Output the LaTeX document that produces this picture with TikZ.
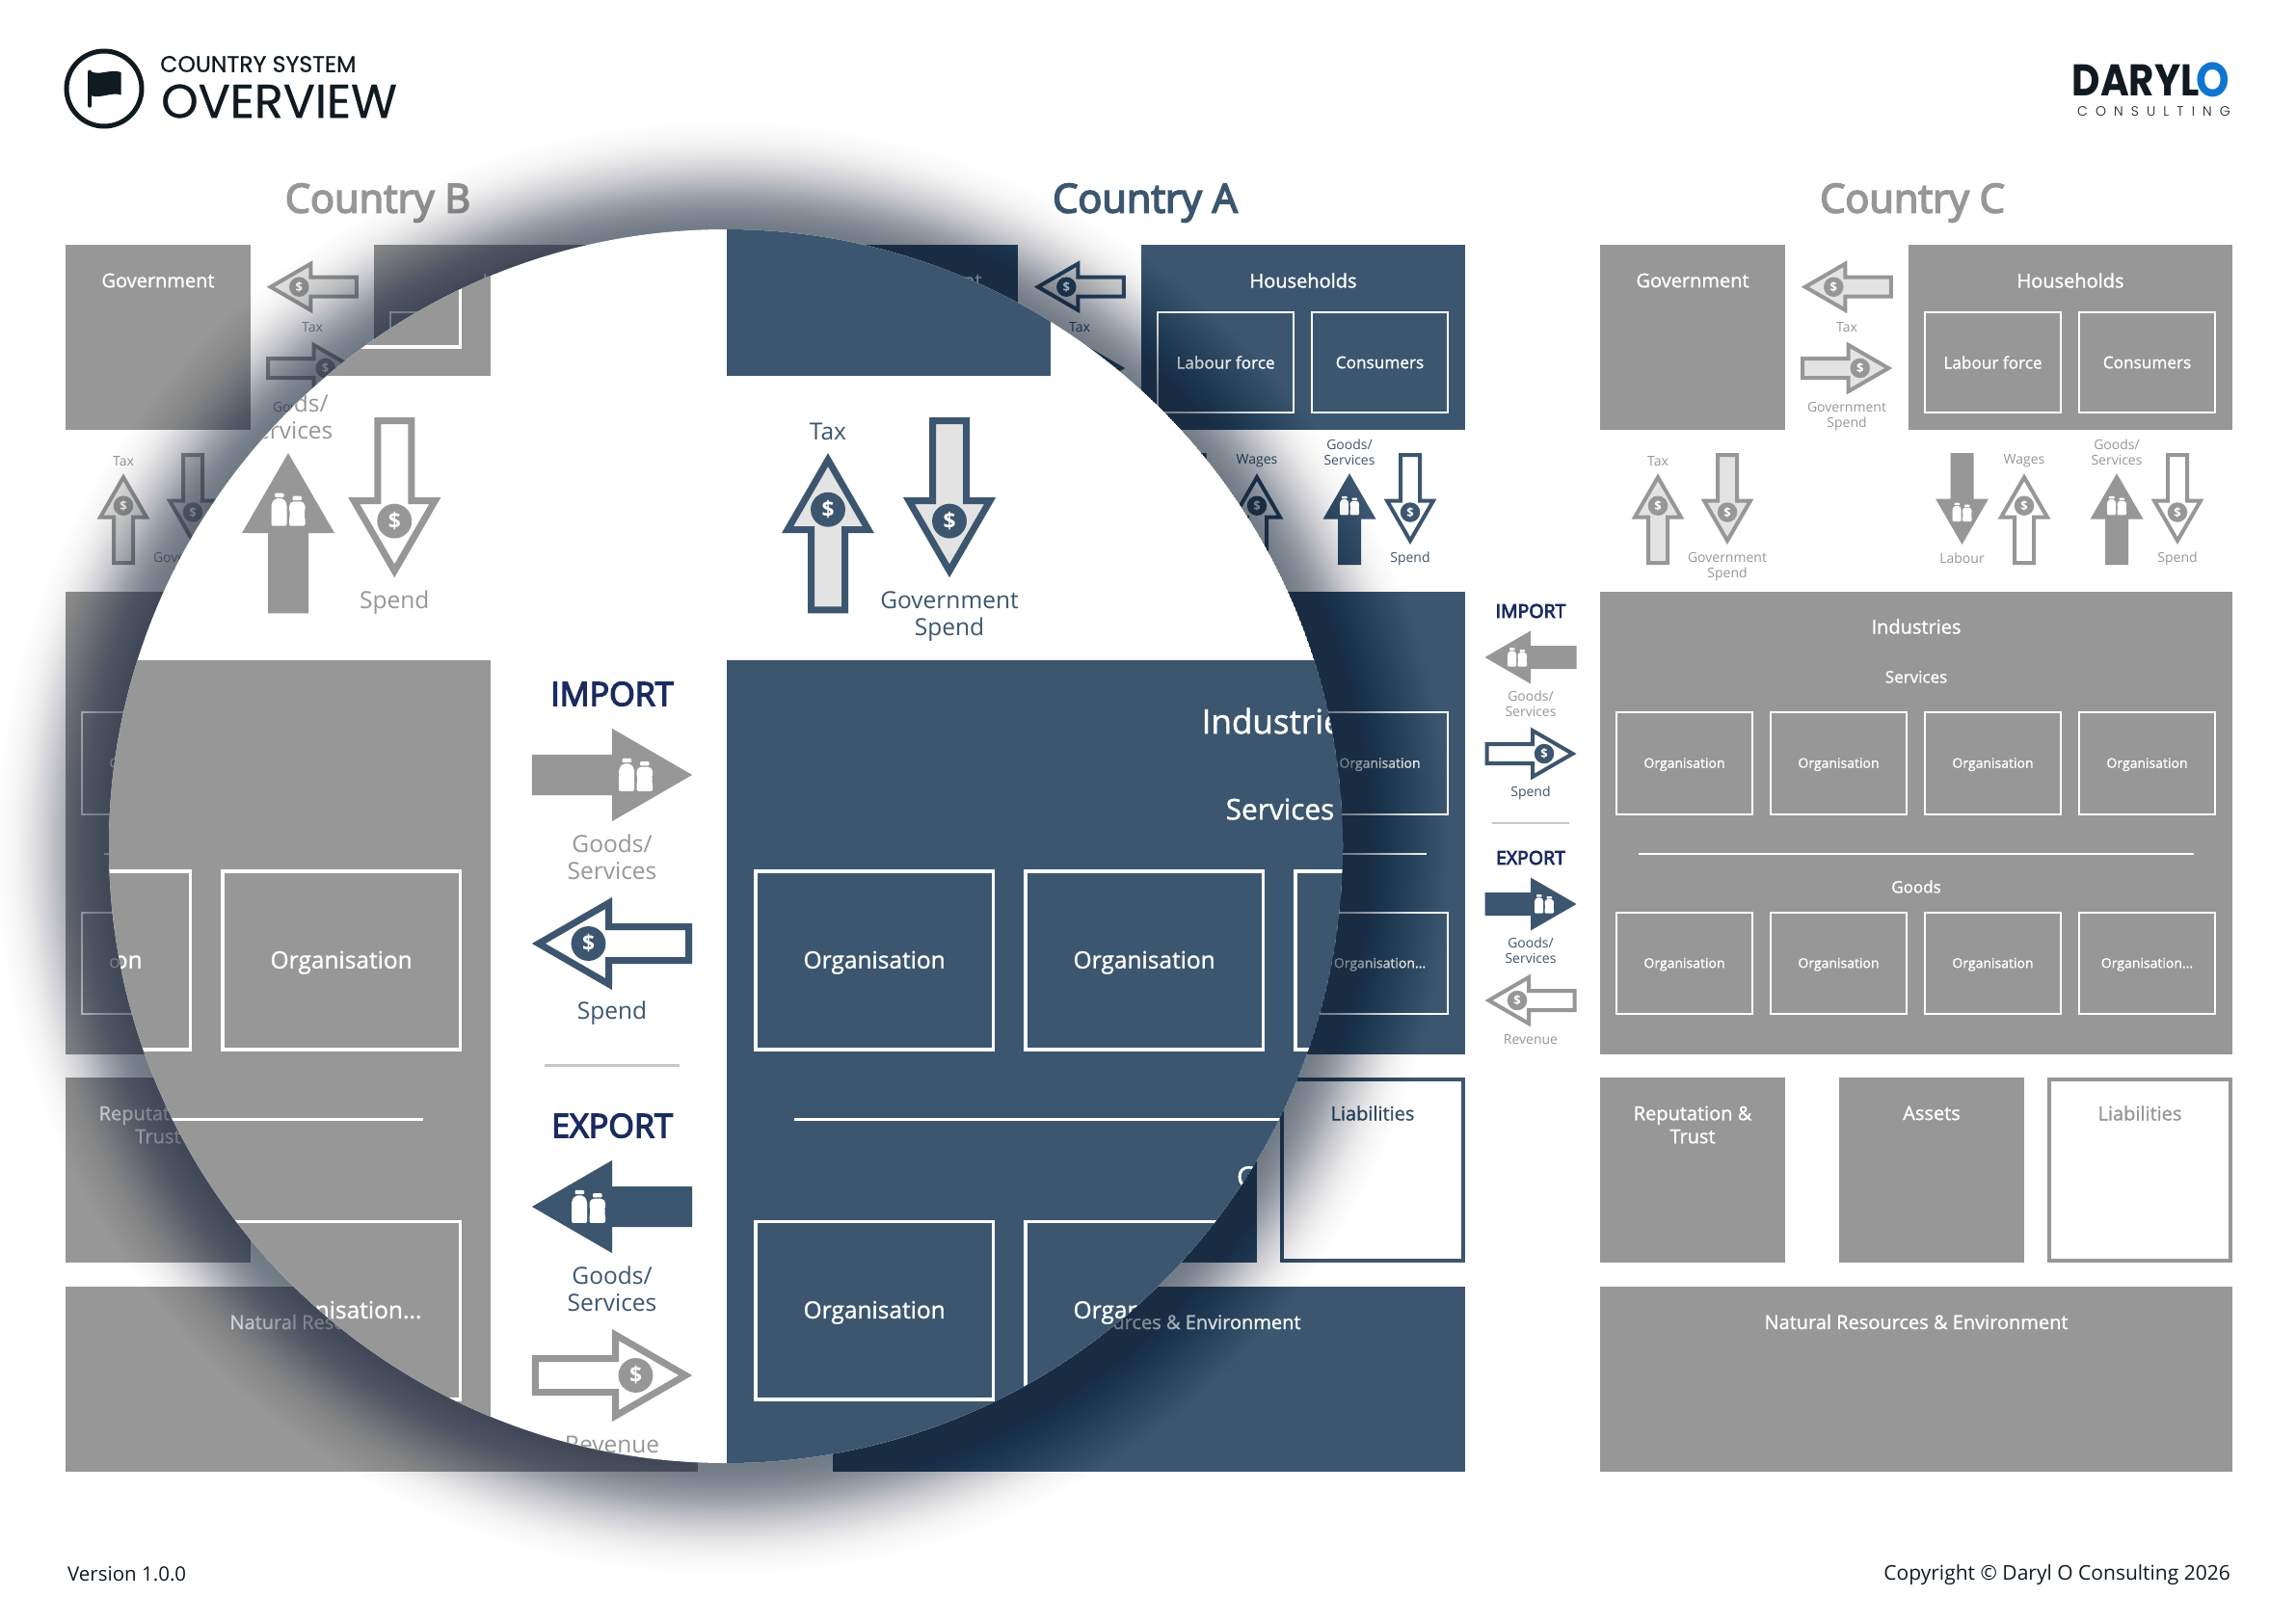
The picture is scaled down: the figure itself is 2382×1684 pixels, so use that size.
\documentclass[tikz,border=0pt]{standalone}
\usepackage{fontspec}
\setmainfont{Open Sans}
\newfontfamily\medf[FakeBold=1.2]{Open Sans}
\newfontfamily\semif[FakeBold=4]{Open Sans}
\newfontfamily\boldf{Open Sans Bold}
\newfontfamily\popf[FakeBold=0.6]{Poppins}
\newfontfamily\logof[FakeStretch=0.88]{Poppins}
\newfontfamily\logol[LetterSpace=58]{Poppins Light}
\definecolor{navy}{HTML}{3C566F}
\definecolor{greyp}{HTML}{979797}
\definecolor{pale}{HTML}{E3E3E3}
\definecolor{ink}{HTML}{101A21}
\definecolor{ttl}{HTML}{1A2B60}
\definecolor{shad}{HTML}{1A2C42}
\definecolor{logob}{HTML}{0F75D0}
\def\lk{1}
\newcommand{\fsz}[2]{\fontsize{#1}{#2}\selectfont}
\tikzset{
  lab/.style={font=\fsz{14}{16}, align=center, inner sep=0pt, text=pcol},
  wlab/.style={font=\medf\fsz{20}{24}, align=center, inner sep=0pt, text=white},
  wmid/.style={font=\medf\fsz{17}{20}, align=center, inner sep=0pt, text=white},
  orgb/.style={draw=white, line width=\lk*2pt, minimum width=141pt, minimum height=105.5pt, inner sep=0pt, text height=13pt, text depth=3.6pt, font=\medf\fsz{14}{16}, text=white},
  hhb/.style={draw=white, line width=\lk*2pt, minimum width=141pt, minimum height=104.5pt, inner sep=0pt, font=\medf\fsz{17.2}{20}, text=white},
  coinm/.style={circle, minimum size=20.5pt, inner sep=0pt, text=white, font=\boldf\fsz{13}{13}},
  ttlt/.style={font=\semif\fsz{19.5}{24}, inner sep=0pt, text=ttl},
  ctitle/.style={font=\semif\fsz{41.5}{44}, inner sep=0pt},
  foot/.style={font=\fsz{20.5}{22}, inner sep=0pt, text=ink}
}
\newcommand{\solidarrow}[5]{%
  \pgfmathsetmacro\ix{#2+14*cos(#4)}\pgfmathsetmacro\iy{#3-14*sin(#4)}%
  \begin{scope}[shift={(#2,#3)},rotate=#4]
    \fill[#5] (-47.5,-12)--(0,-12)--(0,-27.5)--(47.5,0)--(0,27.5)--(0,12)--(-47.5,12)--cycle;
  \end{scope}
  \begin{scope}[shift={(\ix,\iy)}]
    \fill[white,rounded corners=\lk*1.2pt] (-10,9.7)--(-10,-3.5)--(-7.8,-6.6)--(-2.8,-6.6)--(-0.8,-3.5)--(-0.8,9.7)--cycle;
    \fill[white,rounded corners=\lk*0.6pt] (-8,-9.8) rectangle (-2.5,-7.3);
    \fill[white,rounded corners=\lk*1.2pt] (0.6,9.7)--(0.6,4.5)--(1.3,2.7)--(0.6,0.9)--(0.6,-3.2)--(2.2,-4.8)--(8.4,-4.8)--(10,-3.2)--(10,0.9)--(9.3,2.7)--(10,4.5)--(10,9.7)--cycle;
    \fill[white,rounded corners=\lk*0.6pt] (2.6,-8) rectangle (8,-5.5);
  \end{scope}
}
\newcommand{\coinarrow}[6]{%
  \pgfmathsetmacro\ix{#2+14*cos(#4)}\pgfmathsetmacro\iy{#3-14*sin(#4)}%
  \begin{scope}[shift={(#2,#3)},rotate=#4]
    \draw[fill=#5,draw=#6,line width=\lk*4pt,miter limit=10] (-45.5,-10)--(2,-10)--(2,-24)--(43.5,0)--(2,24)--(2,10)--(-45.5,10)--cycle;
  \end{scope}
  \node[coinm,fill=#6] (#1) at (\ix,\iy) {\$};
}
\newcommand{\govhouse}[3]{%
  \begin{scope}[shift={(#2,0)}]
  \colorlet{pcol}{#3}
  \fill[pcol] (1660,254) rectangle (1852,445.6);
  \fill[pcol] (1980,254) rectangle (2316,445.6);
  \node[wlab] (#1gov) at (1756,291) {Government};
  \node[wlab] (#1hh) at (2148,291) {Households};
  \node[hhb] (#1lab) at (2067.5,376) {Labour force};
  \node[hhb] (#1con) at (2227.5,376) {Consumers};
  \coinarrow{#1a}{1916.3}{297.7}{180}{pale}{pcol}
  \node[lab] (#1lb) at (1916,339.3) {Tax};
  \coinarrow{#1b}{1915.7}{382}{0}{pale}{pcol}
  \node[lab] (#1lc) at (1916,432.5) {Government\\Spend};
  \end{scope}
}
\newcommand{\flowrow}[3]{%
  \begin{scope}[shift={(#2,0)}]
  \colorlet{pcol}{#3}
  \coinarrow{#1d}{1720}{538.7}{90}{pale}{pcol}
  \node[lab] (#1ld) at (1720,478.5) {Tax};
  \coinarrow{#1e}{1792}{517.5}{270}{pale}{pcol}
  \node[lab] (#1le) at (1792,588) {Government\\Spend};
  \solidarrow{#1f}{2035.5}{517.5}{270}{pcol}
  \node[lab] (#1lf) at (2035.5,579.3) {Labour};
  \coinarrow{#1g}{2100}{538.7}{90}{white}{pcol}
  \node[lab] (#1lg) at (2100,478.5) {Wages};
  \solidarrow{#1h}{2196}{538.7}{90}{pcol}
  \node[lab] (#1lh) at (2196,469.5) {Goods/\\Services};
  \coinarrow{#1i}{2259}{517.5}{270}{white}{pcol}
  \node[lab] (#1li) at (2259,579.8) {Spend};
  \end{scope}
}
\newcommand{\industries}[3]{%
  \begin{scope}[shift={(#2,0)}]
  \colorlet{pcol}{#3}
  \fill[pcol] (1660,614) rectangle (2316,1094);
  \node[wlab] (#1ind) at (1988,650) {Industries};
  \node[wmid] (#1ser) at (1988,702.3) {Services};
  \node[wmid] (#1goo) at (1988,920) {Goods};
  \coordinate (#1da) at (1700,886);
  \coordinate (#1db) at (2276,886);
  \draw[white,line width=\lk*1.8pt] (#1da)--(#1db);
  \node[orgb] (#1o1) at (1747.5,792) {Organisation};
  \node[orgb] (#1o2) at (1907.5,792) {Organisation};
  \node[orgb] (#1o3) at (2067.5,792) {Organisation};
  \node[orgb] (#1o4) at (2227.5,792) {Organisation};
  \node[orgb] (#1o5) at (1747.5,999.5) {Organisation};
  \node[orgb] (#1o6) at (1907.5,999.5) {Organisation};
  \node[orgb] (#1o7) at (2067.5,999.5) {Organisation};
  \node[orgb] (#1o8) at (2227.5,999.5) {Organisation...};
  \end{scope}
}
\newcommand{\lowerrow}[3]{%
  \begin{scope}[shift={(#2,0)}]
  \colorlet{pcol}{#3}
  \fill[pcol] (1660,1118) rectangle (1852,1310);
  \fill[pcol] (1908,1118) rectangle (2100,1310);
  \draw[draw=pcol,fill=white,line width=4pt] (2126,1120) rectangle (2314,1308);
  \fill[pcol] (1660,1335) rectangle (2316,1527);
  \node[wlab] (#1rep) at (1756,1167) {Reputation \&\\Trust};
  \node[wlab] (#1ass) at (2004,1155) {Assets};
  \node[wlab,text=pcol] (#1lia) at (2220,1155) {Liabilities};
  \node[wlab] (#1nat) at (1988,1371.5) {Natural Resources \& Environment};
  \end{scope}
}
\newcommand{\tradecol}[4]{%
  \colorlet{pcol}{navy}
  \node[ttlt] (#1it) at (#2,634) {IMPORT};
  \solidarrow{#1a}{#2}{682}{#3}{greyp}
  \node[lab,text=greyp] (#1la) at (#2,730.7) {Goods/\\Services};
  \coinarrow{#1b}{#2}{782}{#4}{white}{navy}
  \node[lab,text=navy] (#1lb) at (#2,823.3) {Spend};
  \coordinate (#1da) at (#2-40,854);
  \coordinate (#1db) at (#2+40,854);
  \draw[draw=black!22,line width=\lk*1.8pt] (#1da)--(#1db);
  \node[ttlt] (#1et) at (#2,890) {EXPORT};
  \solidarrow{#1c}{#2}{938}{#4}{navy}
  \node[lab,text=navy] (#1lc) at (#2,986.5) {Goods/\\Services};
  \coinarrow{#1d}{#2}{1038}{#3}{white}{greyp}
  \node[lab,text=greyp] (#1ld) at (#2,1079) {Revenue};
}
\begin{document}
\begin{tikzpicture}[x=1pt,y=-1pt]
\useasboundingbox (0,0) rectangle (2382,1684);
\fill[white] (0,0) rectangle (2382,1684);
% header
\draw[ink,line width=5pt] (108,92) circle[radius=39];
\fill[ink,rounded corners=1.5pt] (91,72.5) rectangle (95,111.5);
\fill[ink] (94,74) .. controls (103,79) and (115,71) .. (125.7,75) -- (125.7,98.5) .. controls (115,95) and (104,103) .. (94,99) -- cycle;
\node[anchor=west,inner sep=0pt,text=ink,font=\popf\fsz{23.6}{26}] (title1) at (166,66.5) {COUNTRY SYSTEM};
\node[anchor=west,inner sep=0pt,text=ink,font=\popf\fsz{49}{50}] (title2) at (167,105) {OVERVIEW};
\node[anchor=east,inner sep=0pt,text=ink,font=\logof\bfseries\fsz{46}{48}] (logoa) at (2282,83) {DARYL};
\node[inner sep=0pt,text=logob,font=\logof\bfseries\fsz{50}{50}] (logob) at (2296,83) {O};
\node[anchor=east,inner sep=0pt,text=ink,font=\logol\fsz{14}{16}] (logoc) at (2314,115.5) {CONSULTING};
% country titles
\node[ctitle,text=greyp] (tb) at (392,210.5) {Country B};
\node[ctitle,text=navy] (ta) at (1188,210.5) {Country A};
\node[ctitle,text=greyp] (tc) at (1984,210.5) {Country C};
% panels
\govhouse{bk}{-1592}{greyp}\flowrow{bk}{-1592}{greyp}\industries{bk}{-1592}{greyp}\lowerrow{bk}{-1592}{greyp}
\govhouse{ak}{-796}{navy}\flowrow{ak}{-796}{navy}\industries{ak}{-796}{navy}\lowerrow{ak}{-796}{navy}
\govhouse{ck}{0}{greyp}\flowrow{ck}{0}{greyp}\industries{ck}{0}{greyp}\lowerrow{ck}{0}{greyp}
\tradecol{tr}{1588}{180}{0}
% footer
\node[foot,anchor=west] (ver) at (70,1633) {Version 1.0.0};
\node[foot,anchor=east,font=\fsz{21}{22}] (cop) at (2314,1634) {Copyright © Daryl O Consulting 2026};
% lens shadow: soft gaussian fall-off composed of thin rings
\foreach \i in {80,79,...,1}{%
  \pgfmathsetmacro\Dn{0.56*exp(-(2*\i/62)^2)}%
  \pgfmathsetmacro\Do{0.56*exp(-((2*\i+2)/62)^2)}%
  \pgfmathsetmacro\al{(\Dn-\Do)/(1-\Do)}%
  \fill[shad,opacity=\al] (750,880) circle[radius={640+2*\i}];
}
% lens
\begin{scope}
  \clip (753,878) circle[radius=640];
  \fill[white] (753,878) circle[radius=640];
  \def\lk{1.75}
  \begin{scope}[shift={(-758,-389.5)},scale=1.75,transform shape]
    % country B, as far as the lens shows it
    \colorlet{pcol}{greyp}
    \fill[pcol] (388,254) rectangle (724,445.6);
    \node[hhb] (lbcon) at (635.5,376) {};
    \fill[pcol] (68,614) rectangle (724,1094);
    \coordinate (lbda) at (108,886);
    \coordinate (lbdb) at (684,886);
    \draw[white,line width=\lk*1.8pt] (lbda)--(lbdb);
    \node[orgb] (lbo3) at (475.5,792) {Organisation};
    \node[orgb] (lbo4) at (635.5,792) {Organisation};
    \node[orgb] (lbo8) at (635.5,999.5) {Organisation...};
    \solidarrow{lbg}{604}{538.7}{90}{pcol}
    \node[lab] (lblg) at (604,469.5) {Goods/\\Services};
    \coinarrow{lbs}{667}{517.5}{270}{white}{pcol}
    \node[lab] (lbls) at (667,579.8) {Spend};
    % country A, as far as the lens shows it
    \colorlet{pcol}{navy}
    \fill[pcol] (864,254) rectangle (1056,445.6);
    \coinarrow{lat}{924}{538.7}{90}{pale}{pcol}
    \node[lab] (lalt) at (924,478.5) {Tax};
    \coinarrow{lag}{996}{517.5}{270}{pale}{pcol}
    \node[lab] (lalg) at (996,588) {Government\\Spend};
    \fill[pcol] (864,614) rectangle (1520,1094);
    \node[wlab] (laind) at (1192,650) {Industries};
    \node[wmid] (laser) at (1192,702.3) {Services};
    \node[wmid] (lagoo) at (1192,920) {Goods};
    \coordinate (lada) at (904,886);
    \coordinate (ladb) at (1480,886);
    \draw[white,line width=\lk*1.8pt] (lada)--(ladb);
    \node[orgb] (lao1) at (951.5,792) {Organisation};
    \node[orgb] (lao2) at (1111.5,792) {Organisation};
    \node[orgb] (lao3) at (1271.5,792) {};
    \node[orgb] (lao5) at (951.5,999.5) {Organisation};
    \node[orgb] (lao6) at (1111.5,999.5) {Organisation};
    % trade between B and A
    \tradecol{lt}{796}{0}{180}
  \end{scope}
\end{scope}
\end{tikzpicture}
\end{document}
